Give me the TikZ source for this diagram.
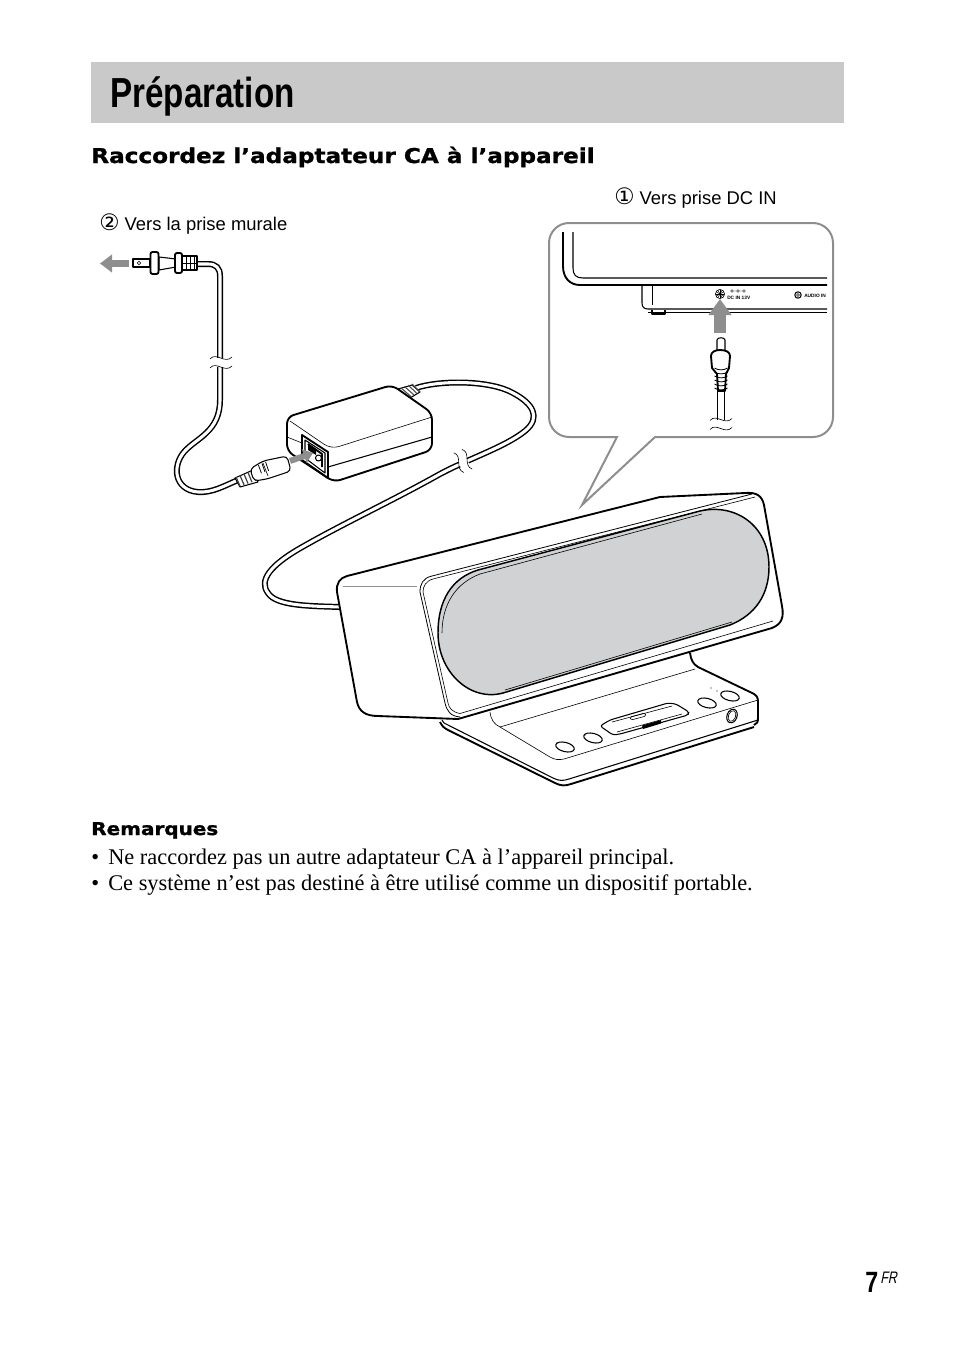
\documentclass[tikz,border=0pt]{standalone}
\usepackage{fontspec}
\setmainfont{Liberation Serif}
\setsansfont{Liberation Sans}
\newfontfamily\titlefont[FakeStretch=0.79]{Liberation Sans Bold}
\newfontfamily\headfont[FakeStretch=1.135,FakeBold=1.2]{DejaVu Sans Bold}
\newfontfamily\circfont{DejaVu Sans}
\newfontfamily\langfont[FakeStretch=0.75,FakeSlant=0.2]{Liberation Sans}
\usetikzlibrary{arrows.meta,positioning,calc}
\definecolor{barfill}{HTML}{C9C9C9}
\definecolor{grillfill}{HTML}{D0D2D3}
\definecolor{hintgray}{HTML}{8E8E8E}
\newcommand{\cablebreak}[3]{
  \begin{scope}[shift={(#1,#2)},rotate=#3]
    \fill[white] (-7,-4.5) rectangle (7,4.5);
    \draw[thinline] (-11,-3.5) .. controls (-5,-11) and (4,2) .. (11,-5.5);
    \draw[thinline] (-11,5.5) .. controls (-5,-2) and (4,11) .. (11,3.5);
  \end{scope}
}
\begin{document}
\begin{tikzpicture}[x=.75pt,y=-.75pt]
  \tikzstyle{thinline}=[line width=.45pt,line join=round]
  \tikzstyle{midline}=[line width=.8pt,line join=round]
  \tikzstyle{heavyline}=[line width=1.4pt,line join=round]
  \tikzstyle{cable}=[line width=1.1pt,double=white,double distance=2.3pt]
  \tikzstyle{hint}=[-{Triangle[length=12pt,width=16.5pt]},line width=9pt,draw=hintgray]
  \tikzstyle{hintsmall}=[-{Triangle[length=9pt,width=13pt]},line width=5pt,draw=hintgray]
  \tikzstyle{hintlittle}=[-{Triangle[length=7pt,width=10.5pt]},line width=4.5pt,draw=hintgray]
  \tikzstyle{caption}=[inner sep=0pt,anchor=base west,font=\sffamily\fontsize{13.8}{16}\selectfont]
  \tikzstyle{bodytext}=[inner sep=0pt,anchor=base west,font=\rmfamily\fontsize{16.8}{19}\selectfont]
  \tikzstyle{tiny}=[inner sep=0pt,anchor=base west,font=\sffamily\bfseries\fontsize{3.6}{4}\selectfont]
  \useasboundingbox (0,0) rectangle (954,1345);
  \fill[barfill] (91,62) rectangle (844,123);
  \node[inner sep=0pt,anchor=base west,font=\titlefont\fontsize{31.5}{36}\selectfont] (title) at (110,108) {Préparation};
  \node[inner sep=0pt,anchor=base west,font=\headfont\fontsize{15.3}{18}\selectfont] (subtitle) at (91,163) {Raccordez l’adaptateur CA à l’appareil};
  \node[caption] (dcin) at (614,204) {{\circfont\fontsize{17}{16}\selectfont ①} Vers prise DC IN};
  \node[caption] (wall) at (99,230) {{\circfont\fontsize{17}{16}\selectfont ②} Vers la prise murale};

  % bubble
  \draw[hintgray,line width=1.5pt,line join=miter]
    (617,437) -- (582,505) -- (655,437) -- (813,437)
    arc[start angle=90,end angle=0,radius=20] -- (833,243)
    arc[start angle=0,end angle=-90,radius=20] -- (569,223)
    arc[start angle=-90,end angle=-180,radius=20] -- (549,417)
    arc[start angle=180,end angle=90,radius=20] -- cycle;
  \draw[heavyline] (563,232) -- (563,266) .. controls (563,278) and (570,285) .. (580,285) -- (827,285);
  \draw[midline] (573,232) -- (573,268) .. controls (573,275) and (576,278) .. (583,278) -- (827,278);
  \draw[midline] (642,285) -- (642,303) .. controls (642,307) and (644,309) .. (648,309) -- (827,309);
  \draw[thinline] (652,285) -- (652,305);
  \draw[thinline] (648,312.5) -- (827,312.5);
  \draw[midline] (652,310) -- (652,314) -- (665,314) -- (665,310);
  \draw[thinline] (720,294) circle (4.6);
  \foreach \ang in {0,30,60,90,120,150} \draw[line width=.35pt] (720,294) ++(\ang:4.4) -- ++(\ang+180:8.8);
  \fill (720,294) circle (1.2);
  \draw[line width=.3pt] (732,291) circle (1.4) (738,291) circle (1.4) (744,291) circle (1.4) (733.4,291) -- (736.6,291) (739.4,291) -- (742.6,291);
  \node[tiny] (dclabel) at (727,299) {DC IN 13V};
  \draw[midline] (798,295) circle (3.2);
  \draw[thinline] (798,295) circle (1.5);
  \node[tiny] (audiolabel) at (804,297) {AUDIO IN};
  \draw[hint] (720,333) -- (720,299);
  \draw[midline,fill=white] (717,350) -- (717,340) .. controls (717,337) and (725,337) .. (725,340) -- (725,350);
  \draw[midline] (717.5,391) -- (717.5,421);
  \draw[heavyline] (724.5,391) -- (724.5,421);
  \draw[heavyline,fill=white] (718,391) -- (717,374) -- (712,368) -- (711,356) .. controls (711,352) and (715,350) .. (720,350) .. controls (726,350) and (730,352) .. (730,356) -- (729,368) -- (726,374) -- (725,391) -- cycle;
  \foreach \yy in {368,372,376,380,384,388} \draw[line width=.6pt] (714.5,\yy) .. controls (718,\yy+2.5) and (724,\yy+2.5) .. (727.5,\yy);
  \cablebreak{721}{424}{0}
  \fill[white] (712,430.5) rectangle (734,435);

  % power cable
  \draw[cable] (197,264) -- (208,264) .. controls (216,264) and (220,268) .. (220,276) -- (220,400)
    .. controls (220,432) and (196,438) .. (184,452) .. controls (172,466) and (174,490) .. (198,492)
    .. controls (212,493) and (224,486) .. (238,480);
  \cablebreak{221}{362.5}{0}
  \draw[midline,fill=white] (133,259) rectangle (150,267);
  \draw[thinline] (139,263) circle (1.8);
  \draw[midline,fill=white] (159,257) -- (176,259) -- (176,267) -- (159,270) -- cycle;
  \draw[heavyline,fill=white,rounded corners=1.5pt] (150.5,252) rectangle (158.5,274);
  \draw[midline,fill=white] (182,256) rectangle (197,270);
  \foreach \xx in {186,190,194} \draw[thinline] (\xx,257) -- (\xx,269);
  \draw[thinline] (182,263) -- (197,263);
  \draw[heavyline,fill=white,rounded corners=1.5pt] (175,253) rectangle (182,273);
  \draw[hintsmall] (129,263.5) -- (100,263.5);

  % adapter cable
  \draw[cable] (416,388) .. controls (440,380) and (490,380) .. (513,393)
    .. controls (532,403) and (542,417) .. (525,431)
    .. controls (505,447) and (470,458) .. (440,474)
    .. controls (390,502) and (340,525) .. (297,550)
    .. controls (272,565) and (258,580) .. (268,593)
    .. controls (276,606) and (310,606) .. (340,607);
  \cablebreak{463}{461}{-68}
  \draw[midline,fill=white] (395,390) -- (412,385) -- (420,392) -- (410,398) -- cycle;
  \foreach \tt in {0,.25,.5,.75,1}
    \draw[line width=.8pt,black!70] ($(397,389)!\tt!(412,384)$) -- ($(408,398)!\tt!(420,392)$);

  % connector to adapter
  \draw[midline,fill=white] (235,478) -- (253,470) -- (258,482) -- (240,487) -- cycle;
  \foreach \tt in {0,.25,.5,.75,1}
    \draw[line width=.9pt,black!75] ($(236,477)!\tt!(252,471)$) -- ($(240,486)!\tt!(256,481)$);
  \draw[midline,fill=white,rounded corners=3pt] (250,469) -- (263,461) -- (287,456) -- (291,471) -- (267,479) -- (254,481) -- cycle;
  \draw[thinline] (263,463) -- (268,476);
  \foreach \tt in {.2,.5,.8} \draw[line width=.6pt] ($(256,466)!\tt!(268,461)$) -- ($(259,474)!\tt!(271,470)$);

  % adapter
  \draw[heavyline,fill=white,rounded corners=5pt] (287,417) -- (392,385) -- (432,413) -- (432,450) -- (334,482) -- (287,451) -- cycle;
  \draw[thinline,rounded corners=6pt] (290,421) -- (331,449) -- (432,417);
  \draw[thinline] (287,437) -- (302,443);
  \draw[midline] (328,467) -- (432,437);
  \draw[heavyline,fill=white] (302,435) -- (328,452) -- (328,478) -- (302,460) -- cycle;
  \draw[midline,fill=white] (305,440) -- (325,453) -- (325,473) -- (305,458) -- cycle;
  \draw[heavyline] (308,444) -- (322,454) -- (322,467);
  \fill (308,444) -- (316,449) -- (316,455) -- (308,450) -- cycle;
  \draw[midline] (318.5,458) circle (3);
  \draw[hintlittle] (290,461) -- (313,453);

  % speaker body
  \draw[heavyline,fill=white] (337,592) .. controls (336,583) and (340,578) .. (347,576)
    -- (660,497) -- (745,493) .. controls (757,492) and (762,496) .. (764,505)
    -- (782,606) .. controls (784,617) and (782,624) .. (772,628)
    -- (458,719) -- (378,716) .. controls (365,716) and (359,711) .. (357,702) -- cycle;
  \draw[line width=.5pt,hintgray] (343,586) -- (417,586);
  \draw[line width=.6pt] (420,592) .. controls (420,584) and (423,578) .. (432,576) -- (752,494);
  \draw[thinline] (423,592) .. controls (423,586) and (426,581) .. (433,579) -- (755,497);
  \draw[line width=.6pt] (420,592) -- (445,703) .. controls (447,711) and (450,716) .. (460,717);
  \draw[thinline] (423,592) -- (448,703) .. controls (449,708) and (452,712) .. (460,713.5) -- (773,621);

  % grill
  \draw[line width=1.1pt,fill=grillfill] (438,633)
    .. controls (438,600) and (452,578) .. (478,570)
    -- (700,511)
    .. controls (735,503) and (769,525) .. (769,567)
    .. controls (769,595) and (755,615) .. (730,625)
    -- (503,693)
    .. controls (470,702) and (438,672) .. (438,633) -- cycle;
  \draw[thinline] (442,633)
    .. controls (442,604) and (456,583) .. (480,574)
    -- (702,514);
  \draw[thinline] (505,690) -- (732,622);

  % base
  \draw[heavyline] (690,653) .. controls (691,660) and (693,664) .. (698,667) -- (750,692) .. controls (757,695) and (758,697) .. (758,702) -- (758,718) .. controls (758,722) and (757,724) .. (754,725);
  \draw[heavyline] (440,722) .. controls (442,726) and (444,728) .. (448,730) -- (555,783) .. controls (561,786) and (565,786) .. (571,784) -- (754,727);
  \draw[midline] (442,720) -- (444,723) -- (553,778) .. controls (559,781) and (563,781) .. (569,779) -- (758,720);
  \draw[thinline] (490,712) .. controls (491,720) and (494,724) .. (500,727) -- (550,757) .. controls (555,760) and (559,760) .. (564,759) -- (758,700);
  \draw[thinline] (500,727) -- (695,669);
  \draw[midline] (565,747) ellipse[x radius=9.5,y radius=4.6,rotate=-14];
  \draw[midline] (593,738) ellipse[x radius=9.5,y radius=4.6,rotate=-14];
  \draw[midline] (707,703) ellipse[x radius=9.5,y radius=4.6,rotate=-14];
  \draw[midline] (730,696) ellipse[x radius=9.5,y radius=4.6,rotate=-14];
  \fill (557,743) circle (.7) (585,735) circle (.7) (711,688) circle (.7) (717,691) circle (.7);
  \draw[midline] (732,716) ellipse[x radius=5,y radius=7,rotate=-20];
  \draw[thinline] (732,716) ellipse[x radius=3.6,y radius=5.6,rotate=-20];
  \draw[midline,rounded corners=2pt] (600,726) -- (610,720) -- (668,703) -- (676,704) -- (689,712) -- (688,715) -- (620,734) -- (613,735) -- cycle;
  \draw[thinline] (612,722) -- (672,706);
  \draw[thinline] (617,732) -- (682,714);
  \fill (642,725.5) -- (661,720) -- (661,723.5) -- (643,729) -- cycle;
  \draw[thinline,rounded corners=1pt] (630,717) -- (645,713) -- (646,716) -- (631,720) -- cycle;

  % notes
  \node[inner sep=0pt,anchor=base west,font=\headfont\fontsize{13.2}{15}\selectfont] (notes) at (91,835) {Remarques};
  \node[bodytext] (bulleta) at (91,864) {•};
  \node[bodytext] (notea) at (108,864) {Ne raccordez pas un autre adaptateur CA à l’appareil principal.};
  \node[bodytext] (bulletb) at (91,890) {•};
  \node[bodytext] (noteb) at (108,890) {Ce système n’est pas destiné à être utilisé comme un dispositif portable.};
  \node[inner sep=0pt,anchor=base west,font=\titlefont\fontsize{22}{24}\selectfont] (pagenum) at (865,1292) {7};
  \node[inner sep=0pt,anchor=base west,font=\langfont\fontsize{12.5}{14}\selectfont] (lang) at (880,1283) {FR};
\end{tikzpicture}
\end{document}
